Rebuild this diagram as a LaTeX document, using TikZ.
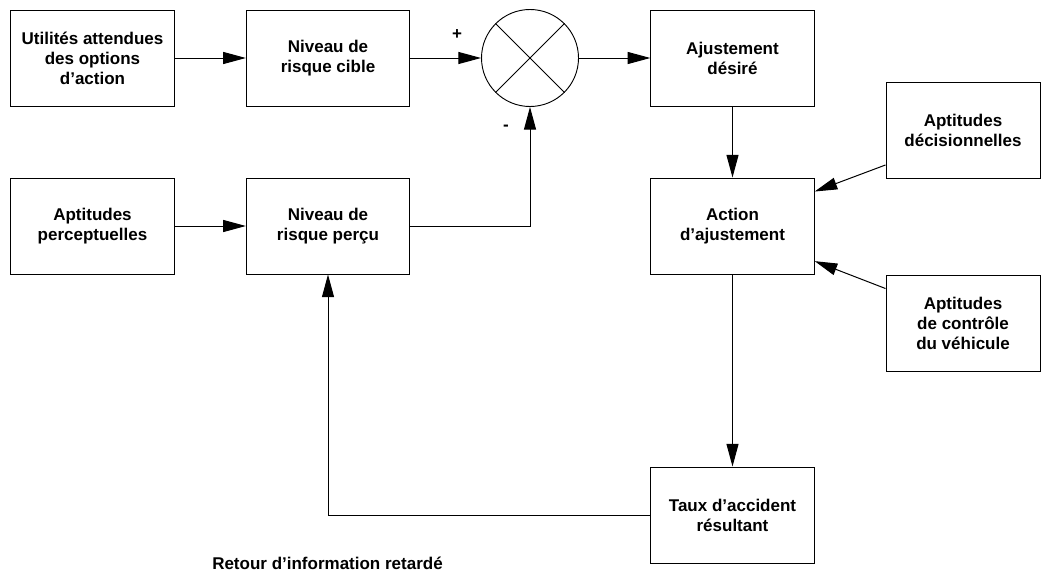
\documentclass[tikz,border=0pt]{standalone}
\usepackage{fontspec}
\setmainfont{Liberation Sans}
\usetikzlibrary{arrows.meta}

\begin{document}
\begin{tikzpicture}[x=0.75pt, y=-0.75pt,
        txt/.style={font=\fontsize{12.75}{15}\selectfont\bfseries, align=center},
        bloc/.style={txt, draw, line width=0.7pt, minimum width=122.5pt, minimum height=72pt, inner sep=2pt},
        apt/.style={bloc, minimum width=115.5pt},
        fl/.style={-{Triangle[length=17pt, width=9pt]}, line width=0.75pt}]
        \useasboundingbox (0,0) rectangle (1041,571);

        \node[bloc] (util) at (92.5,58) {Utilités attendues\\des options\\d’action};
        \node[bloc] (cible) at (328,58) {Niveau de\\risque cible};
        \node[draw, circle, line width=0.7pt, minimum size=72.75pt, inner sep=0pt] (somme) at (530,58) {};
        \node[bloc] (ajust) at (732.5,58) {Ajustement\\désiré};
        \node[apt] (decis) at (963,130.5) {Aptitudes\\décisionnelles};
        \node[bloc] (percept) at (92.5,226) {Aptitudes\\perceptuelles};
        \node[bloc] (percu) at (328,226) {Niveau de\\risque perçu};
        \node[bloc] (action) at (732.5,226) {Action\\d’ajustement};
        \node[apt] (controle) at (963,323) {Aptitudes\\de contrôle\\du véhicule};
        \node[bloc] (taux) at (732.5,515) {Taux d’accident\\résultant};
        \node[txt] (plus) at (457,35) {+};
        \node[txt] (moins) at (506,128) {-};
        \node[txt] (retour) at (327.5,563) {Retour d’information retardé};

        \draw[line width=0.6pt] (somme.north west) -- (somme.south east);
        \draw[line width=0.6pt] (somme.north east) -- (somme.south west);

        \draw[fl] (util) -- (cible);
        \draw[fl] (cible) -- (somme);
        \draw[fl] (somme) -- (ajust);
        \draw[fl] (ajust) -- (action);
        \draw[fl] (percept) -- (percu);
        \draw[fl] (percu.east) -| (somme.south);
        \draw[fl] ([yshift=10.5pt]decis.south west) -- ([yshift=-10.5pt]action.north east);
        \draw[fl] ([yshift=-10.5pt]controle.north west) -- ([yshift=10pt]action.south east);
        \draw[fl] (action) -- (taux);
        \draw[fl] (taux.west) -| (percu.south);
\end{tikzpicture}
\end{document}
